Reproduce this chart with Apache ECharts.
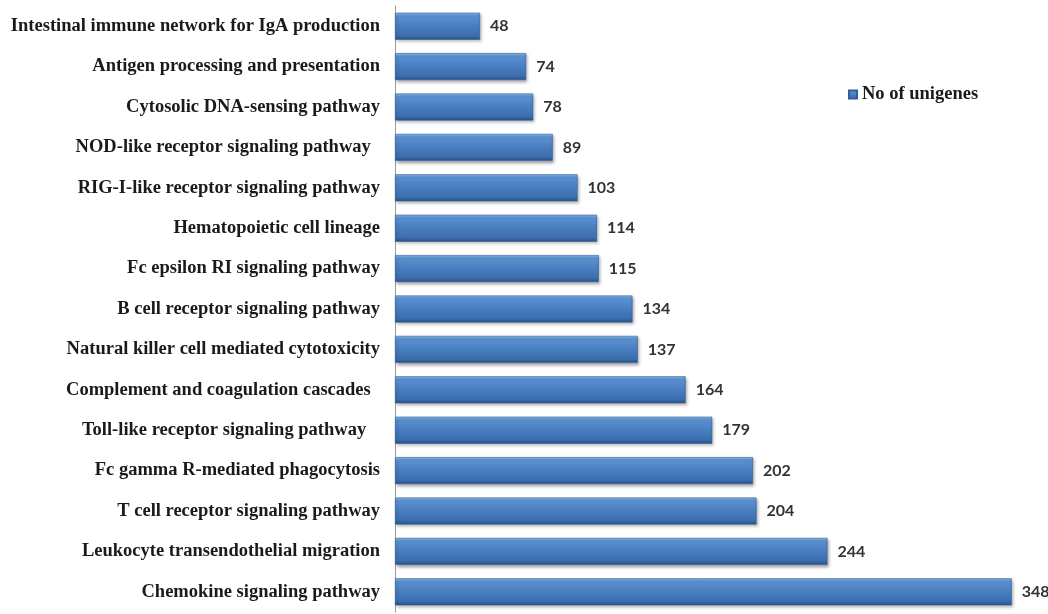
<!DOCTYPE html>
<html>
<head>
<meta charset="utf-8">
<style>
  html, body { margin: 0; padding: 0; background: #ffffff; }
  #chart { width: 1048px; height: 614px; }
</style>
<script src="https://cdn.jsdelivr.net/npm/echarts@6/dist/echarts.min.js"></script>
</head>
<body>
<div id="chart"></div>
<script>
// KEGG immune-system pathways, listed top to bottom
const pathways = [
  'Intestinal immune network for IgA production',
  'Antigen processing and presentation',
  'Cytosolic DNA-sensing pathway',
  'NOD-like receptor signaling pathway  ',
  'RIG-I-like receptor signaling pathway',
  'Hematopoietic cell lineage',
  'Fc epsilon RI signaling pathway',
  'B cell receptor signaling pathway',
  'Natural killer cell mediated cytotoxicity',
  'Complement and coagulation cascades  ',
  'Toll-like receptor signaling pathway   ',
  'Fc gamma R-mediated phagocytosis',
  'T cell receptor signaling pathway',
  'Leukocyte transendothelial migration',
  'Chemokine signaling pathway'
];
const unigeneCounts = [48, 74, 78, 89, 103, 114, 115, 134, 137, 164, 179, 202, 204, 244, 348];
const seriesName = 'No of unigenes';

const chart = echarts.init(document.getElementById('chart'));

// glossy blue bar fill
const barFill = new echarts.graphic.LinearGradient(0, 0, 0, 1, [
  { offset: 0, color: '#8dbbec' },
  { offset: 0.12, color: '#5b92d2' },
  { offset: 0.45, color: '#4a80c2' },
  { offset: 0.85, color: '#3c6eae' },
  { offset: 1, color: '#284f84' }
]);

const serifBold = {
  fontFamily: '"Liberation Serif", "Times New Roman", serif',
  fontWeight: 'bold',
  fontSize: 18.5,
  color: '#1a1a1a'
};

chart.setOption({
  animation: false,
  backgroundColor: '#ffffff',
  grid: { left: 395, right: 15, top: 6, bottom: 2, containLabel: false },
  legend: {
    data: [seriesName],
    left: 843,
    top: 80,
    itemWidth: 8,
    itemHeight: 8,
    itemGap: 4,
    icon: 'rect',
    textStyle: serifBold
  },
  xAxis: {
    type: 'value',
    min: 0,
    max: 360,
    show: false
  },
  yAxis: {
    type: 'category',
    inverse: true,
    data: pathways,
    axisLine: { show: true, lineStyle: { color: '#9a9a9a', width: 1 } },
    axisTick: { show: false },
    axisLabel: Object.assign({ margin: 15, padding: [3, 0, 0, 0] }, serifBold)
  },
  series: [{
    name: seriesName,
    type: 'bar',
    data: unigeneCounts,
    barWidth: 27,
    itemStyle: {
      color: barFill,
      borderColor: '#2f5f9c',
      borderWidth: 0.6,
      shadowColor: 'rgba(0,0,0,0.35)',
      shadowBlur: 3,
      shadowOffsetX: 1.5,
      shadowOffsetY: 2
    },
    label: {
      show: true,
      position: 'right',
      distance: 10,
      fontFamily: 'Lato, "Open Sans", sans-serif',
      fontWeight: 'bold',
      fontSize: 16,
      color: '#333333'
    }
  }]
});
</script>
</body>
</html>
